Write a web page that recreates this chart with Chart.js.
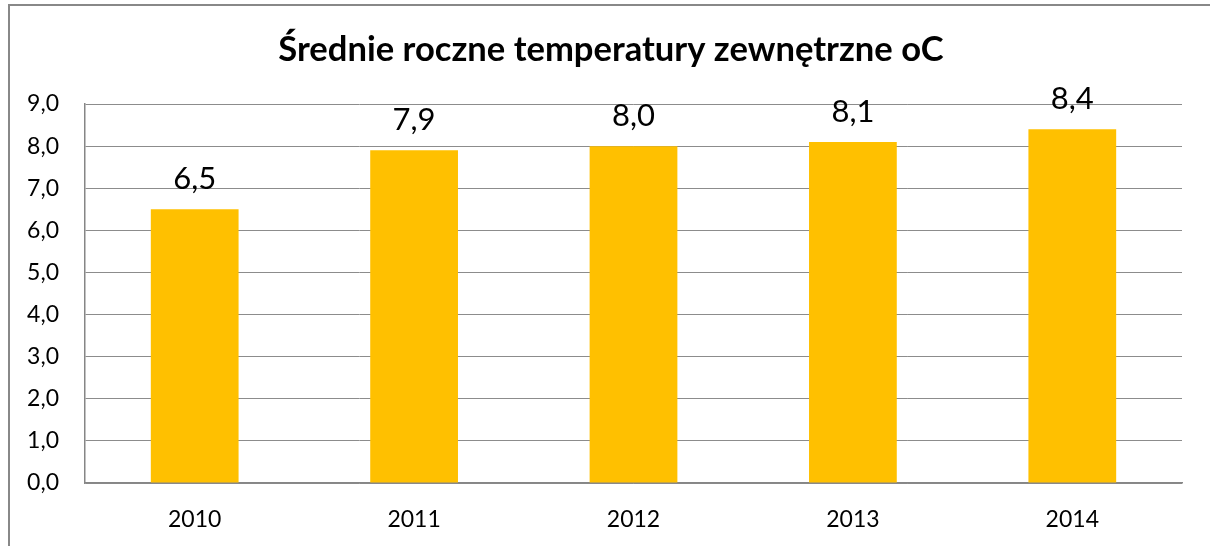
<!DOCTYPE html>
<html>
<head>
<meta charset="utf-8">
<script src="https://cdn.jsdelivr.net/npm/chart.js@4"></script>
<style>
	html, body { margin: 0; padding: 0; background: #fff; }
	#wrap { position: relative; width: 1210px; height: 546px; overflow: hidden; }
	#frame {
		position: absolute; left: 8px; top: 4px; width: 1300px; height: 700px;
		border-left: 2px solid #888; border-top: 2px solid #888; pointer-events: none;
	}
</style>
</head>
<body>
<div id="wrap">
	<canvas id="chart" width="1210" height="546"></canvas>
	<div id="frame"></div>
</div>
<script>
const years = ['2010', '2011', '2012', '2013', '2014'];
const temps = [6.5, 7.9, 8.0, 8.1, 8.4];
const yTicks = [0, 1, 2, 3, 4, 5, 6, 7, 8, 9];

const fmt = (v) => v.toFixed(1).replace('.', ',');

// value labels above bars
const barLabels = {
	id: 'barLabels',
	afterDatasetsDraw(chart) {
		const ctx = chart.ctx;
		const meta = chart.getDatasetMeta(0);
		ctx.save();
		ctx.font = '31px Lato';
		ctx.fillStyle = '#000';
		ctx.textAlign = 'center';
		ctx.textBaseline = 'alphabetic';
		meta.data.forEach((bar, i) => {
			ctx.fillText(fmt(temps[i]), bar.x, bar.y - 20);
		});
		ctx.restore();
	},
};

// the original title sits a little right of the canvas centre
const titleShift = {
	id: 'titleShift',
	afterLayout(chart) {
		if (chart.titleBlock) {
			chart.titleBlock.left += 40;
		}
	},
};

new Chart(document.getElementById('chart').getContext('2d'), {
	type: 'bar',
	data: {
		labels: years,
		datasets: [
			{
				data: temps,
				backgroundColor: '#FFC000',
				borderWidth: 0,
				categoryPercentage: 1,
				barPercentage: 0.4,
			},
		],
	},
	options: {
		responsive: false,
		animation: false,
		layout: { padding: { left: 0, right: 28, top: 0, bottom: 0 } },
		plugins: {
			legend: { display: false },
			tooltip: { enabled: false },
			title: {
				display: true,
				text: 'Średnie roczne temperatury zewnętrzne oC',
				color: '#000',
				font: { family: 'Lato', size: 34.6, weight: 'bold', lineHeight: 1.2 },
				padding: { top: 29, bottom: 33.5 },
			},
		},
		scales: {
			x: {
				grid: { display: false },
				border: { display: true, color: '#868686', width: 1.5 },
				ticks: { color: '#000', font: { family: 'Lato', size: 23 }, padding: 15 },
				afterFit(scale) { scale.height = 63; },
			},
			y: {
				min: 0,
				max: 9,
				afterBuildTicks(scale) { scale.ticks = yTicks.map((v) => ({ value: v })); },
				grid: { color: '#8c8c8c', lineWidth: 1, drawTicks: false },
				border: { display: true, color: '#868686', width: 1.5 },
				ticks: {
					color: '#000',
					font: { family: 'Lato', size: 23 },
					padding: 26,
					callback: (v) => fmt(v),
				},
				afterFit(scale) { scale.width = 85; },
			},
		},
	},
	plugins: [barLabels, titleShift],
});
</script>
</body>
</html>
